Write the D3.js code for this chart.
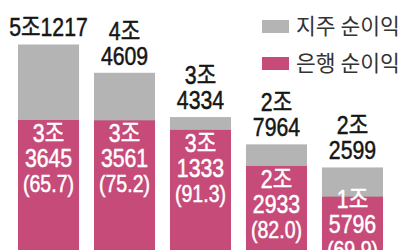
<!DOCTYPE html>
<html>
<head>
<meta charset="utf-8">
<script src="https://cdn.jsdelivr.net/npm/d3@7/dist/d3.min.js"></script>
<style>
  body { margin: 0; background: #fff; }
  svg { display: block; }
</style>
</head>
<body>
<div id="chart"></div>
<script>
// five bars, left to right (the category labels are cropped off in the source)
var groups = ["g1", "g2", "g3", "g4", "g5"];
// bank net income, 억원
var bankIncome = [33645, 33561, 31333, 22933, 15796];
// holding net income, 억원, as the bar lengths show it
var holdingBar = [51217, 44630, 34320, 27964, 22599];
// printed labels
var holdingText = [["5조1217"], ["4조", "4609"], ["3조", "4334"], ["2조", "7964"], ["2조", "2599"]];
var bankText = [["3조", "3645"], ["3조", "3561"], ["3조", "1333"], ["2조", "2933"], ["1조", "5796"]];
var bankShare = ["65.7", "75.2", "91.3", "82.0", "69.9"];
var legendNames = ["지주 순이익", "은행 순이익"];

var width = 400, height = 250;
var gray = "#b4b4b4", pink = "#c64b79";
var numFont = "'Liberation Sans', 'Noto Sans CJK KR', sans-serif";
var krFont = "'Noto Sans CJK KR', sans-serif";

var svg = d3.select("#chart").append("svg")
    .attr("width", width)
    .attr("height", height);

var x = d3.scaleBand()
    .domain(groups)
    .range([18, 383])
    .paddingInner(0.197)
    .paddingOuter(0);

// zero sits below the visible area; bars run off the bottom edge
var y = d3.scaleLinear()
    .domain([0, d3.max(holdingBar)])
    .range([264.5, 44.5]);

var bars = svg.append("g").selectAll("g")
    .data(groups)
    .enter().append("g");

bars.append("rect")
    .attr("x", function(d){ return x(d); })
    .attr("width", x.bandwidth())
    .attr("y", function(d, i){ return y(holdingBar[i]); })
    .attr("height", function(d, i){ return y(0) - y(holdingBar[i]); })
    .style("fill", gray);

bars.append("rect")
    .attr("x", function(d){ return x(d); })
    .attr("width", x.bandwidth())
    .attr("y", function(d, i){ return y(bankIncome[i]); })
    .attr("height", function(d, i){ return y(0) - y(bankIncome[i]); })
    .style("fill", pink);

// condensed label block centred on a bar
function labelBlock(sel, cx, color) {
    return sel.append("g")
        .attr("transform", "translate(" + cx + ",0) scale(0.85,1)")
        .append("text")
        .attr("text-anchor", "middle")
        .style("font-family", numFont)
        .style("font-size", "25px")
        .style("fill", color)
        .style("stroke", color)
        .style("stroke-width", "0.5px");
}

// holding labels above the bars
bars.each(function(d, i){
    var lines = holdingText[i];
    var last = y(holdingBar[i]) - 8;
    var t = labelBlock(d3.select(this), x(d) + x.bandwidth() / 2, "#161616");
    lines.forEach(function(line, k){
        t.append("tspan")
            .attr("x", 0)
            .attr("y", last - (lines.length - 1 - k) * 25)
            .text(line);
    });
});

// bank labels inside the pink bars
bars.each(function(d, i){
    var lines = bankText[i].concat(["(" + bankShare[i] + ")"]);
    var first = Math.min(y(bankIncome[i]) + 22, height - 42);
    var t = labelBlock(d3.select(this), x(d) + x.bandwidth() / 2, "#fff");
    lines.forEach(function(line, k){
        t.append("tspan")
            .attr("x", 0)
            .attr("y", first + k * 25)
            .style("font-size", k == 2 ? "23px" : "25px")
            .text(line);
    });
});

// legend
var legend = svg.append("g").selectAll("g")
    .data(legendNames)
    .enter().append("g")
    .attr("transform", function(d, i){ return "translate(262," + (20 + i * 37) + ")"; });

legend.append("rect")
    .attr("width", 27)
    .attr("height", 13)
    .style("fill", function(d, i){ return i == 0 ? gray : pink; });

legend.append("text")
    .attr("x", 34)
    .attr("y", 14)
    .style("font-family", krFont)
    .style("font-size", "21.5px")
    .style("fill", "#333")
    .text(function(d){ return d; });
</script>
</body>
</html>
